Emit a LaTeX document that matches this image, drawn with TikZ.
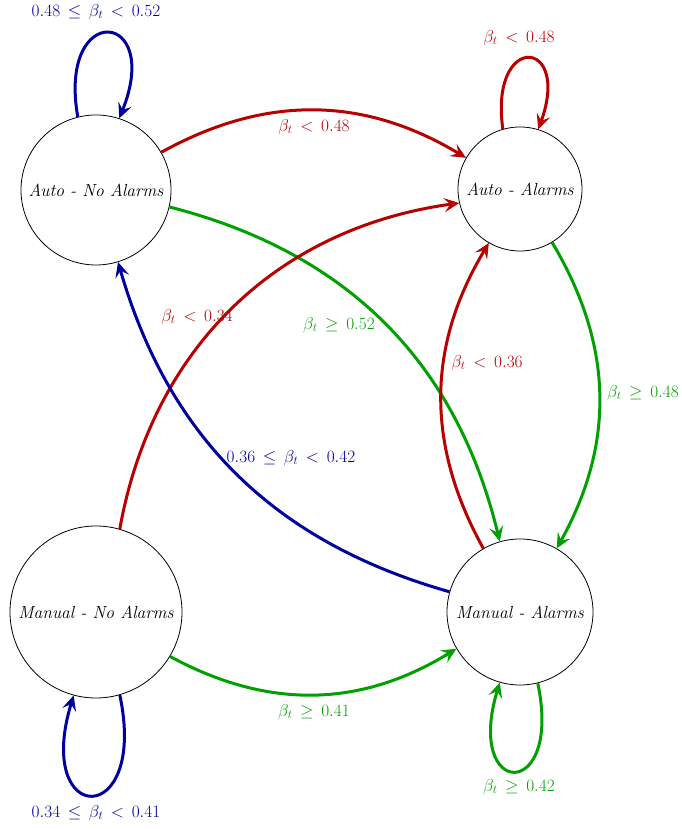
\documentclass[tikz,border=0pt]{standalone}
\usetikzlibrary{arrows.meta}
\definecolor{cblue}{RGB}{0,0,160}
\definecolor{cred}{RGB}{185,0,0}
\definecolor{cgreen}{RGB}{0,160,0}
\begin{document}
\begin{tikzpicture}[x=1pt,y=1pt,
  state/.style={circle,draw=black,line width=0.8pt,inner sep=0pt,font=\fontsize{17.5}{20}\selectfont\itshape},
  tr/.style={line width=3pt,-{Stealth[length=15pt,width=14pt,inset=6pt]}},
  lab/.style={font=\fontsize{16.5}{19}\selectfont,inner sep=0pt}]
\useasboundingbox (0,0) rectangle (681,829);
\node[state,minimum size=150pt] (an) at (96,639) {Auto - No Alarms};
\node[state,minimum size=124pt] (aa) at (520,640) {Auto - Alarms};
\node[state,minimum size=172pt] (mn) at (96,217) {Manual - No Alarms};
\node[state,minimum size=146pt] (ma) at (520,217) {Manual - Alarms};
% self loops
\draw[tr,cblue] (an.104) .. controls +(100:118) and +(68:118) .. (an.72);
\draw[tr,cred] (aa.106) .. controls +(98:98) and +(70:98) .. (aa.73);
\draw[tr,cblue] (mn.286) .. controls +(282:138) and +(253:138) .. (mn.255);
\draw[tr,cgreen] (ma.284) .. controls +(282:122) and +(253:122) .. (ma.254);
% transitions
\draw[tr,cred] (an.30) to[bend left=30] (aa.150);
\draw[tr,cgreen] (an.347) to[bend left=31] (ma.106);
\draw[tr,cgreen] (aa.301) to[bend left=30] (ma.60);
\draw[tr,cred] (ma.120) to[bend left=30] (aa.240);
\draw[tr,cred] (mn.74) to[bend left=36] (aa.193);
\draw[tr,cblue] (ma.164) to[bend left=29] (an.287);
\draw[tr,cgreen] (mn.329) to[bend right=30] (ma.210);
% labels
\node[lab,text=cblue] (l1) at (96,817) {$0.48 \,\leq\, \beta_t \,<\, 0.52$};
\node[lab,text=cred] (l2) at (519,791) {$\beta_t \,<\, 0.48$};
\node[lab,text=cred] (l3) at (314,702) {$\beta_t \,<\, 0.48$};
\node[lab,text=cgreen] (l4) at (339,504) {$\beta_t \,\geq\, 0.52$};
\node[lab,text=cred] (l5) at (197,512) {$\beta_t \,<\, 0.34$};
\node[lab,text=cblue] (l6) at (291,371) {$0.36 \,\leq\, \beta_t \,<\, 0.42$};
\node[lab,text=cred] (l7) at (487,466) {$\beta_t \,<\, 0.36$};
\node[lab,text=cgreen] (l8) at (643,436) {$\beta_t \,\geq\, 0.48$};
\node[lab,text=cgreen] (l9) at (314,117) {$\beta_t \,\geq\, 0.41$};
\node[lab,text=cblue] (l10) at (96,16) {$0.34 \,\leq\, \beta_t \,<\, 0.41$};
\node[lab,text=cgreen] (l11) at (519,42) {$\beta_t \,\geq\, 0.42$};
\end{tikzpicture}
\end{document}
